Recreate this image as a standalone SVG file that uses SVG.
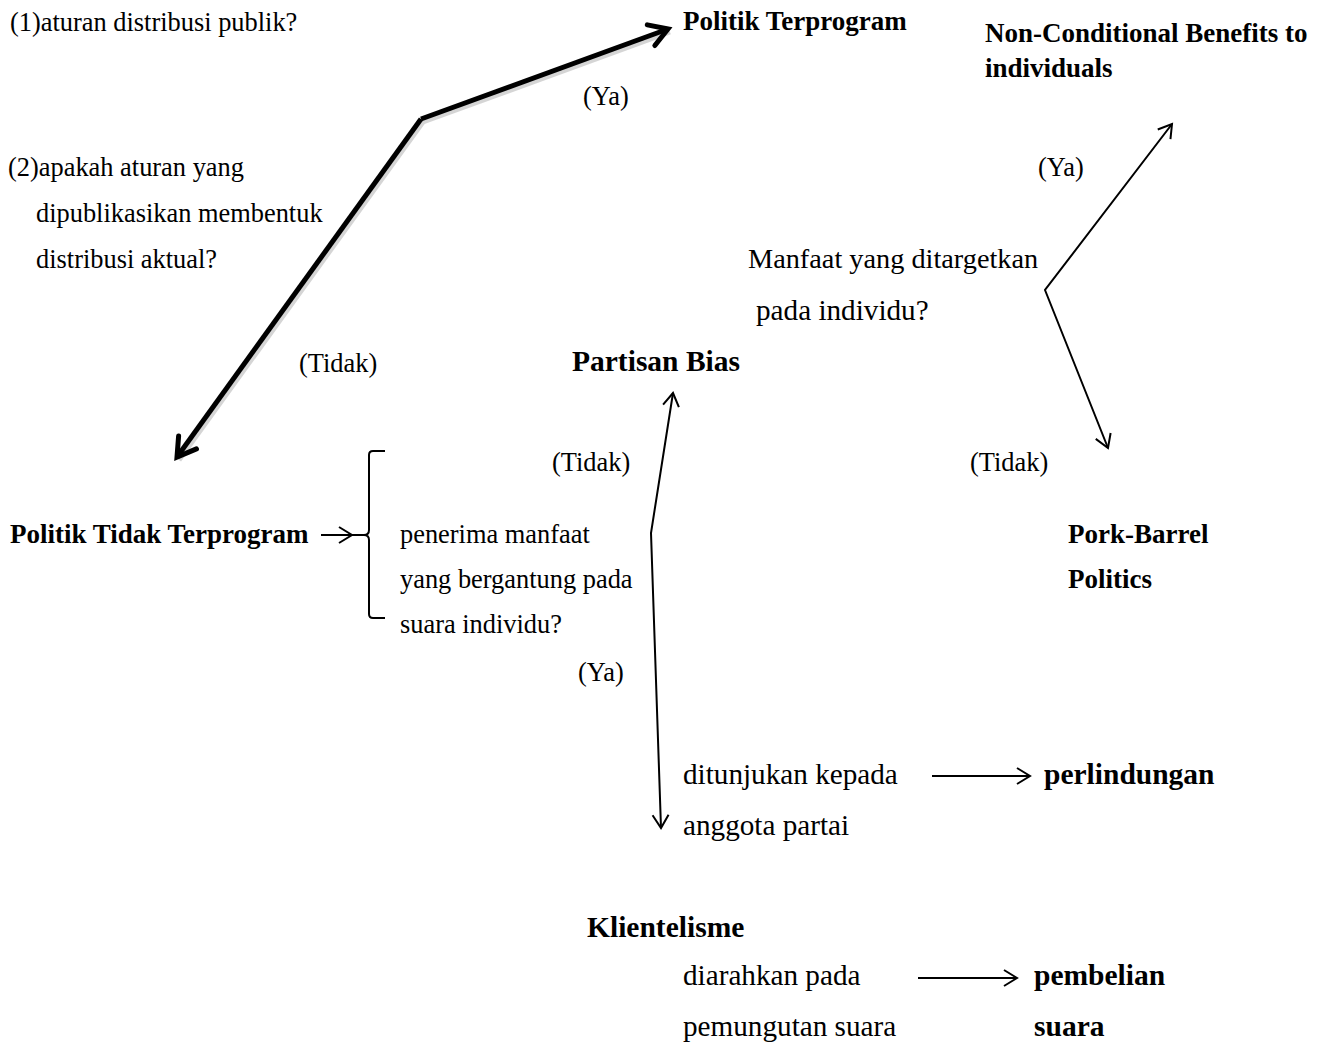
<svg xmlns="http://www.w3.org/2000/svg" width="1322" height="1044" viewBox="0 0 1322 1044">
<style>
text{font-family:"Liberation Serif","Times New Roman",serif;fill:#000}
.r{font-size:26.4px}
.rl{font-size:29.2px}
.b{font-size:27px;font-weight:bold}
.bl{font-size:29.5px;font-weight:bold}
.thick{fill:none;stroke:#000;stroke-width:5;stroke-linejoin:miter}
.thin{fill:none;stroke:#000;stroke-width:2}
</style>
<defs>
<marker id="hT" markerUnits="userSpaceOnUse" markerWidth="40" markerHeight="40" viewBox="-30 -20 40 40" refX="0" refY="0" orient="auto">
<path d="M-18,-11 L0,0 L-18,11" fill="none" stroke="#000" stroke-width="5" stroke-linecap="round"/>
</marker>
<marker id="h" markerUnits="userSpaceOnUse" markerWidth="30" markerHeight="30" viewBox="-20 -15 30 30" refX="0" refY="0" orient="auto">
<path d="M-13,-8 L0,0 L-13,8" fill="none" stroke="#000" stroke-width="2"/>
</marker>
<marker id="hs" markerUnits="userSpaceOnUse" markerWidth="30" markerHeight="30" viewBox="-20 -15 30 30" refX="0" refY="0" orient="auto-start-reverse">
<path d="M-13,-8 L0,0 L-13,8" fill="none" stroke="#000" stroke-width="2"/>
</marker>
</defs>

<g id="connectors">
<path class="thick" d="M668,29 L421,119 L177,457" style="stroke:#888;opacity:0.35" transform="translate(2,3)"/>
<path class="thick" d="M421,119 L668,29" marker-end="url(#hT)"/>
<path class="thick" d="M421,119 L177,457" marker-end="url(#hT)"/>
<path class="thin" d="M321,535 L352,535" marker-end="url(#h)"/>
<path class="thin" d="M385,451 L373,451 Q369,451 369,455 L369,530 Q369,535 364,535 L352,535 M364,535 Q369,535 369,540 L369,614 Q369,618 373,618 L385,618"/>
<path class="thin" d="M673,393 L651,533 L661,828" marker-start="url(#hs)" marker-end="url(#h)"/>
<path class="thin" d="M1172,124 L1045,290 L1108,448" marker-start="url(#hs)" marker-end="url(#h)"/>
<path class="thin" d="M932,776 L1030,776" marker-end="url(#h)"/>
<path class="thin" d="M918,978 L1017,978" marker-end="url(#h)"/>
</g>

<g id="q1"><text class="r" x="10" y="31">(1)aturan distribusi publik?</text></g>
<g id="q2">
<text class="r" x="8" y="176">(2)apakah aturan yang</text>
<text class="r" x="36" y="222">dipublikasikan membentuk</text>
<text class="r" x="36" y="268">distribusi aktual?</text>
</g>
<g id="politik-terprogram"><text class="b" x="683" y="30">Politik Terprogram</text></g>
<g id="non-conditional">
<text class="b" x="985" y="42">Non-Conditional Benefits to</text>
<text class="b" x="985" y="77">individuals</text>
</g>
<g id="lbl-ya1"><text class="r" x="583" y="105">(Ya)</text></g>
<g id="lbl-ya2"><text class="r" x="1038" y="176">(Ya)</text></g>
<g id="q-manfaat">
<text class="rl" x="748" y="268" style="font-size:28.3px">Manfaat yang ditargetkan</text>
<text class="rl" x="756" y="320">pada individu?</text>
</g>
<g id="lbl-tidak1"><text class="r" x="299" y="372">(Tidak)</text></g>
<g id="partisan-bias"><text class="bl" x="572" y="371">Partisan Bias</text></g>
<g id="lbl-tidak2"><text class="r" x="552" y="471">(Tidak)</text></g>
<g id="lbl-tidak3"><text class="r" x="970" y="471">(Tidak)</text></g>
<g id="politik-tidak-terprogram"><text class="b" x="10" y="543">Politik Tidak Terprogram</text></g>
<g id="q-penerima">
<text class="r" x="400" y="543">penerima manfaat</text>
<text class="r" x="400" y="588">yang bergantung pada</text>
<text class="r" x="400" y="633">suara individu?</text>
</g>
<g id="pork-barrel">
<text class="b" x="1068" y="543">Pork-Barrel</text>
<text class="b" x="1068" y="588">Politics</text>
</g>
<g id="lbl-ya3"><text class="r" x="578" y="681">(Ya)</text></g>
<g id="ditunjukan">
<text class="rl" x="683" y="784">ditunjukan kepada</text>
<text class="rl" x="683" y="835">anggota partai</text>
</g>
<g id="perlindungan"><text class="bl" x="1044" y="784">perlindungan</text></g>
<g id="klientelisme"><text class="bl" x="587" y="937">Klientelisme</text></g>
<g id="diarahkan">
<text class="rl" x="683" y="985">diarahkan pada</text>
<text class="rl" x="683" y="1036">pemungutan suara</text>
</g>
<g id="pembelian-suara">
<text class="bl" x="1034" y="985">pembelian</text>
<text class="bl" x="1034" y="1036">suara</text>
</g>
</svg>
